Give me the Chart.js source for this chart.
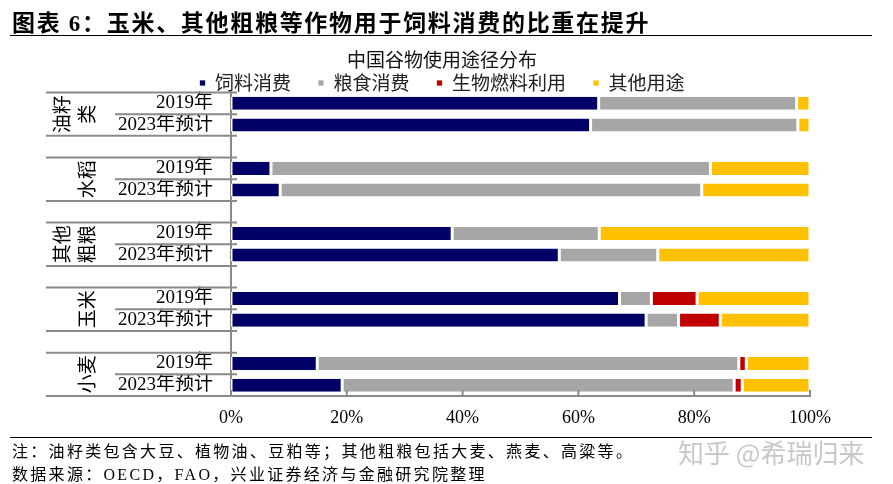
<!DOCTYPE html>
<html>
<head>
<meta charset="utf-8">
<script src="https://cdn.jsdelivr.net/npm/chart.js@4.4.1/dist/chart.umd.min.js"></script>
<style>
  body { margin: 0; background: #fff; }
  #wrap { position: relative; width: 893px; height: 484px; overflow: hidden; }
  #chart { position: absolute; left: 0; top: 0; }
  .txt { position: absolute; white-space: nowrap; color: #000; }
  #header { left: 12px; top: 8px; font: bold 23px "Liberation Serif", "Noto Sans CJK SC", serif; letter-spacing: 1.7px; line-height: 32px; }
  #headLine { position: absolute; left: 10px; top: 35px; width: 862px; height: 0; border-top: 1.5px solid #000; }
  #footLine { position: absolute; left: 10px; top: 437px; width: 862px; height: 0; border-top: 1.5px solid #000; }
  .foot { left: 12px; font: 16px "Liberation Serif", "Noto Sans CJK SC", serif; letter-spacing: 2.3px; line-height: 22px; }
  #note { top: 441px; }
  #source { top: 464px; }
  #mark { left: 678px; top: 436px; font: 26px "Noto Sans CJK SC", sans-serif; color: #c8c8c8; line-height: 32px; }
</style>
</head>
<body>
<div id="wrap">
  <canvas id="chart" width="893" height="484"></canvas>
  <div class="txt" id="header">图表 6：玉米、其他粗粮等作物用于饲料消费的比重在提升</div>
  <div id="headLine"></div>
  <div id="footLine"></div>
  <div class="txt foot" id="note">注：油籽类包含大豆、植物油、豆粕等；其他粗粮包括大麦、燕麦、高粱等。</div>
  <div class="txt foot" id="source">数据来源：OECD，FAO，兴业证券经济与金融研究院整理</div>
  <div class="txt" id="mark">知乎 @希瑞归来</div>
</div>
<script>
// rows top to bottom, empty string = spacer row between groups
var rowLabels = ['2019年', '2023年预计', '', '2019年', '2023年预计', '', '2019年', '2023年预计', '',
                 '2019年', '2023年预计', '', '2019年', '2023年预计'];
// group names, one entry per rotated text line
var groups = [['油籽', '类'], ['水稻'], ['其他', '粗粮'], ['玉米'], ['小麦']];

// shares in %
var feed    = [63.5, 62.1, null, 6.9, 8.5, null, 38.2, 56.7, null, 67.1, 71.7, null, 14.9, 19.2];
var food    = [34.2, 35.8, null, 75.9, 72.8, null, 25.4, 17.0, null, 5.5, 5.6, null, 72.8, 67.7];
var biofuel = [0, 0, null, 0, 0, null, 0, 0, null, 7.9, 7.2, null, 1.3, 1.4];
var other   = [2.3, 2.1, null, 17.2, 18.7, null, 36.4, 26.3, null, 19.5, 15.5, null, 11.0, 11.7];

var xTicks = [0, 20, 40, 60, 80, 100];

var serif = '"Liberation Serif", "Noto Sans CJK SC", serif';
Chart.defaults.font.family = serif;
Chart.defaults.color = '#000';

var axisGray = '#8a8a8a';

// group separators, rotated group names, inside ticks on x axis
var axisDecor = {
  id: 'axisDecor',
  afterDraw: function (chart) {
    var ctx = chart.ctx;
    var y = chart.scales.y;
    var x = chart.scales.x;
    var half = (y.getPixelForTick(1) - y.getPixelForTick(0)) / 2;
    var axisX = chart.chartArea.left;

    ctx.save();
    ctx.strokeStyle = axisGray;
    ctx.lineWidth = 2;
    groups.forEach(function (g, gi) {
      var first = gi * 3;
      var top = y.getPixelForTick(first) - half;
      var mid = y.getPixelForTick(first) + half;
      var bottom = y.getPixelForTick(first + 1) + half;
      ctx.beginPath();
      ctx.moveTo(46, top); ctx.lineTo(axisX + 6, top);
      ctx.moveTo(115, mid); ctx.lineTo(axisX + 6, mid);
      ctx.moveTo(46, bottom); ctx.lineTo(axisX + 6, bottom);
      ctx.stroke();

      // rotated group label
      var cy = (top + bottom) / 2;
      ctx.fillStyle = '#000';
      ctx.font = '19px "Noto Sans CJK SC", sans-serif';
      ctx.textAlign = 'center';
      ctx.textBaseline = 'middle';
      var cols = g.length === 1 ? [87] : [62, 87];
      g.forEach(function (line, li) {
        ctx.save();
        ctx.translate(cols[li], cy);
        ctx.rotate(-Math.PI / 2);
        ctx.fillText(line, 0, 0);
        ctx.restore();
      });
    });

    // inside tick marks on the value axis
    ctx.beginPath();
    xTicks.forEach(function (v) {
      var px = x.getPixelForValue(v);
      ctx.moveTo(px, chart.chartArea.bottom);
      ctx.lineTo(px, chart.chartArea.bottom - 6);
    });
    ctx.stroke();
    ctx.restore();
  }
};

function seriesStyle(label, data, color) {
  return {
    label: label,
    data: data,
    backgroundColor: color,
    borderColor: '#fff',
    borderWidth: { left: 1.5, right: 1.5, top: 0, bottom: 0 },
    borderSkipped: false,
    barPercentage: 0.6,
    categoryPercentage: 1
  };
}

new Chart(document.getElementById('chart'), {
  type: 'bar',
  data: {
    labels: rowLabels,
    datasets: [
      seriesStyle('饲料消费', feed, '#000066'),
      seriesStyle('粮食消费', food, '#a6a6a6'),
      seriesStyle('生物燃料利用', biofuel, '#c00000'),
      seriesStyle('其他用途', other, '#ffc000')
    ]
  },
  options: {
    indexAxis: 'y',
    responsive: false,
    animation: false,
    layout: { padding: { top: 38, left: 0, right: 9, bottom: 0 } },
    plugins: {
      title: {
        display: true,
        text: '中国谷物使用途径分布',
        color: '#111',
        font: { family: '"Noto Sans CJK SC", sans-serif', size: 19, weight: 'normal' },
        padding: { top: 10, bottom: -24.3 }
      },
      legend: {
        display: true,
        position: 'top',
        maxHeight: 46,
        labels: {
          boxWidth: 6,
          boxHeight: 6,
          padding: 27,
          color: '#222',
          font: { family: '"Noto Sans CJK SC", sans-serif', size: 19 }
        }
      },
      tooltip: { enabled: false }
    },
    scales: {
      x: {
        stacked: true,
        min: 0,
        max: 100,
        grid: { display: false, drawTicks: false },
        border: { display: true, color: axisGray, width: 2 },
        ticks: {
          stepSize: 20,
          padding: 11,
          font: { size: 18 },
          callback: function (v) { return v + '%'; }
        },
        afterFit: function (s) { s.height = 88; }
      },
      y: {
        stacked: true,
        grid: { display: false, drawTicks: false },
        border: { display: true, color: axisGray, width: 2 },
        ticks: { padding: 18, font: { size: 19 }, autoSkip: false },
        afterFit: function (s) { s.width = 231; }
      },
      pad: {
        type: 'linear',
        axis: 'y',
        position: 'right',
        display: true,
        grid: { display: false, drawTicks: false },
        border: { display: false },
        ticks: { display: false },
        afterFit: function (s) { s.width = 74; }
      }
    }
  },
  plugins: [axisDecor]
});
</script>
</body>
</html>
